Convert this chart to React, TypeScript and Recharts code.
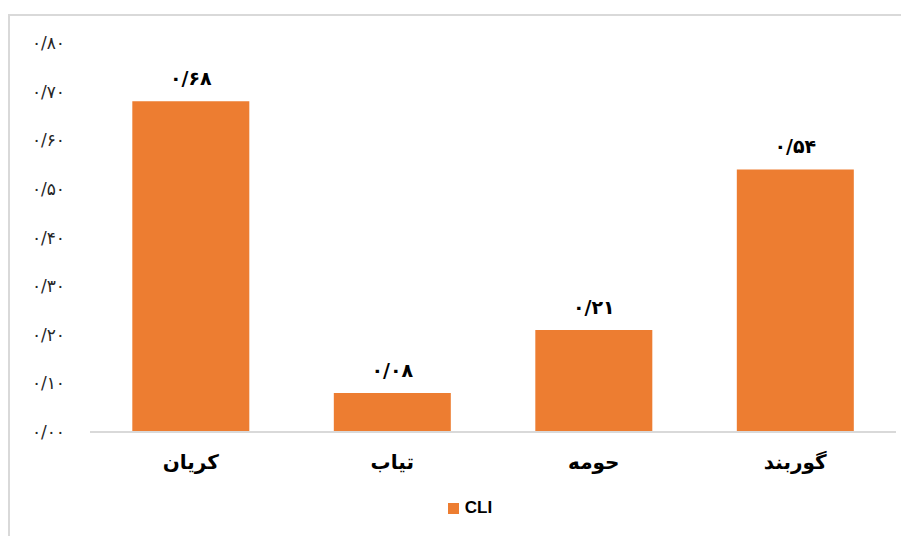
import React from "react";
import { BarChart, Bar, XAxis, YAxis, Legend, LabelList } from "recharts";

const regions = ["کریان", "تیاب", "حومه", "گوربند"];
const cliValues = [0.68, 0.08, 0.21, 0.54];
const yTicks = [0, 0.1, 0.2, 0.3, 0.4, 0.5, 0.6, 0.7, 0.8];

const data = regions.map((name, i) => ({ name, CLI: cliValues[i] }));

const faDigits = "۰۱۲۳۴۵۶۷۸۹";
const toFa = (v: number) =>
  v
    .toFixed(2)
    .replace(".", "/")
    .replace(/\d/g, (d) => faDigits[Number(d)]);

const FONT = "'DejaVu Sans', sans-serif";

const YTick = (props: any) => {
  const { x, y, payload } = props;
  return (
    <text x={x - 17} y={y + 6} textAnchor="end" fontSize={17} fill="#262626" fontFamily={FONT}>
      {toFa(payload.value)}
    </text>
  );
};

const XTick = (props: any) => {
  const { x, y, payload } = props;
  return (
    <text x={x} y={y + 29} textAnchor="middle" fontSize={20} fontWeight="bold" fill="#000" fontFamily={FONT}>
      {payload.value}
    </text>
  );
};

const ValueLabel = (props: any) => {
  const { x, y, width, value } = props;
  return (
    <text x={x + width / 2} y={y - 16} textAnchor="middle" fontSize={19} fontWeight="bold" fill="#000" fontFamily={FONT}>
      {toFa(value)}
    </text>
  );
};

const LegendContent = () => (
  <div style={{ display: "flex", justifyContent: "center", alignItems: "center", height: 20, paddingLeft: 22 }}>
    <span style={{ width: 11, height: 11, background: "#ED7D31", display: "inline-block", marginRight: 6 }} />
    <span style={{ fontFamily: "'Liberation Sans Narrow', 'Liberation Sans', sans-serif", fontWeight: "bold", fontSize: 17, color: "#000" }}>
      CLI
    </span>
  </div>
);

export default function App() {
  return (
    <div
      style={{
        marginTop: 6,
        width: 900,
        height: 520,
        borderTop: "2px solid #d9d9d9",
        borderLeft: "2px solid #d9d9d9",
        background: "#fff",
      }}
    >
      <BarChart width={898} height={518} data={data} margin={{ top: 27, right: 12, left: 0, bottom: 52 }} barCategoryGap="21%">
        <XAxis
          dataKey="name"
          tick={<XTick />}
          tickLine={false}
          axisLine={{ stroke: "#d9d9d9", strokeWidth: 2 }}
          interval={0}
          height={30}
        />
        <YAxis
          domain={[0, 0.8]}
          ticks={yTicks}
          tick={<YTick />}
          tickLine={false}
          axisLine={false}
          width={80}
        />
        <Legend content={<LegendContent />} wrapperStyle={{ top: 482, left: 0, width: 898 }} />
        <Bar dataKey="CLI" fill="#ED7D31" isAnimationActive={false}>
          <LabelList dataKey="CLI" content={<ValueLabel />} />
        </Bar>
      </BarChart>
    </div>
  );
}
